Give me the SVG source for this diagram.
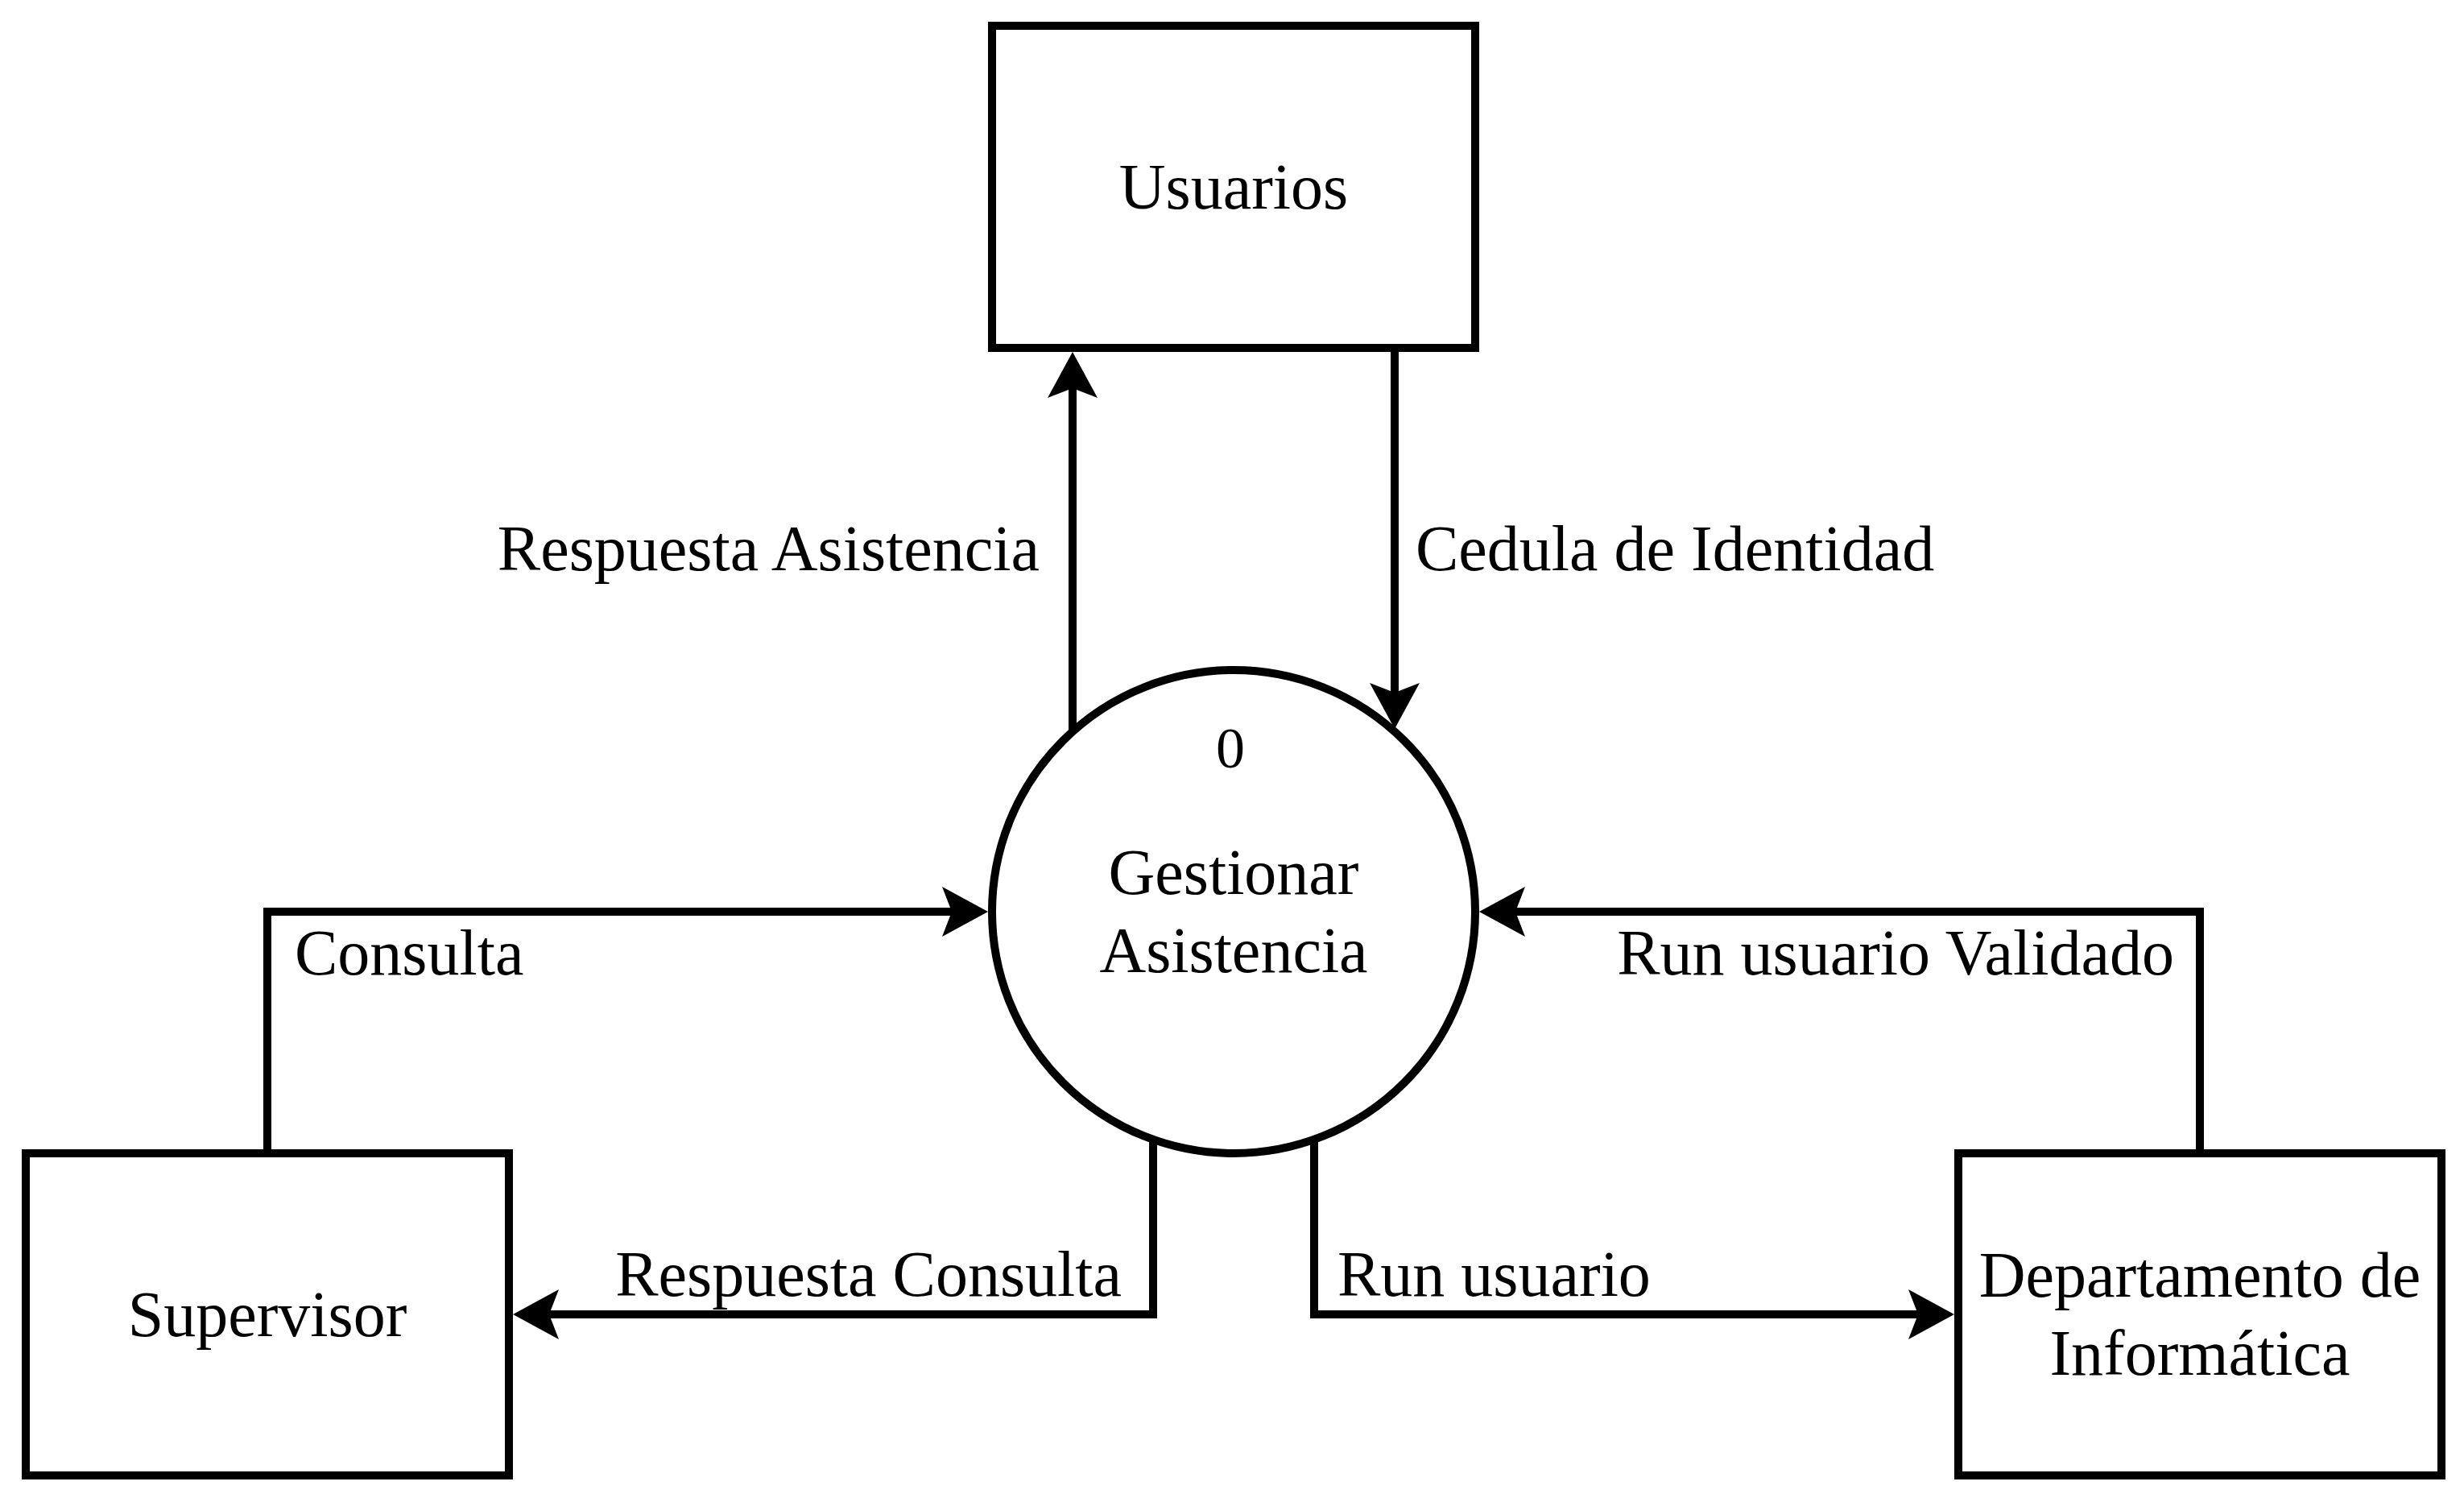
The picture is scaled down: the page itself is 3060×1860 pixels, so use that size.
<svg xmlns="http://www.w3.org/2000/svg" width="3060" height="1860" viewBox="0 0 3060 1860">
<style>
.box{fill:#ffffff;stroke:#000000;stroke-width:10}
.edge{fill:none;stroke:#000000;stroke-width:10;stroke-linejoin:miter}
text{font-family:"Liberation Serif","Times New Roman",serif;font-size:80px;fill:#000000}
.c{text-anchor:middle}
.e{text-anchor:end}
</style>
<defs>
<marker id="arr" viewBox="-15 -35 65 70" markerWidth="65" markerHeight="70" refX="0" refY="0" orient="auto" markerUnits="userSpaceOnUse">
<path d="M45,0 L-12,-31 L0,0 L-12,31 Z" fill="#000000"/>
</marker>
</defs>
<rect x="0" y="0" width="3060" height="1860" fill="#ffffff"/>
<g id="connectors">
<path class="edge" d="M1332,908 L1332,482" marker-end="url(#arr)"/>
<path class="edge" d="M1732,432 L1732,860" marker-end="url(#arr)"/>
<path class="edge" d="M332,1432 L332,1132 L1182,1132" marker-end="url(#arr)"/>
<path class="edge" d="M1432,1415 L1432,1632 L682,1632" marker-end="url(#arr)"/>
<path class="edge" d="M1632,1415 L1632,1632 L2382,1632" marker-end="url(#arr)"/>
<path class="edge" d="M2732,1432 L2732,1132 L1882,1132" marker-end="url(#arr)"/>
<text class="e" x="1291" y="708">Respuesta Asistencia</text>
<text x="1758" y="708">Cedula de Identidad</text>
<text x="366" y="1210">Consulta</text>
<text class="e" x="2700" y="1210">Run usuario Validado</text>
<text class="e" x="1393" y="1609">Respuesta Consulta</text>
<text x="1661" y="1609">Run usuario</text>
</g>
<g id="usuarios">
<rect class="box" x="1232" y="32" width="600" height="400"/>
<text class="c" x="1532" y="259">Usuarios</text>
</g>
<g id="gestionar">
<circle class="box" cx="1532" cy="1132" r="300"/>
<text class="c" x="1528" y="953" style="font-size:72px">0</text>
<text class="c" x="1532" y="1110">Gestionar</text>
<text class="c" x="1532" y="1207">Asistencia</text>
</g>
<g id="supervisor">
<rect class="box" x="32" y="1432" width="600" height="400"/>
<text class="c" x="332" y="1659">Supervisor</text>
</g>
<g id="departamento">
<rect class="box" x="2432" y="1432" width="600" height="400"/>
<text class="c" x="2732" y="1610">Departamento de</text>
<text class="c" x="2732" y="1707">Informática</text>
</g>
</svg>
